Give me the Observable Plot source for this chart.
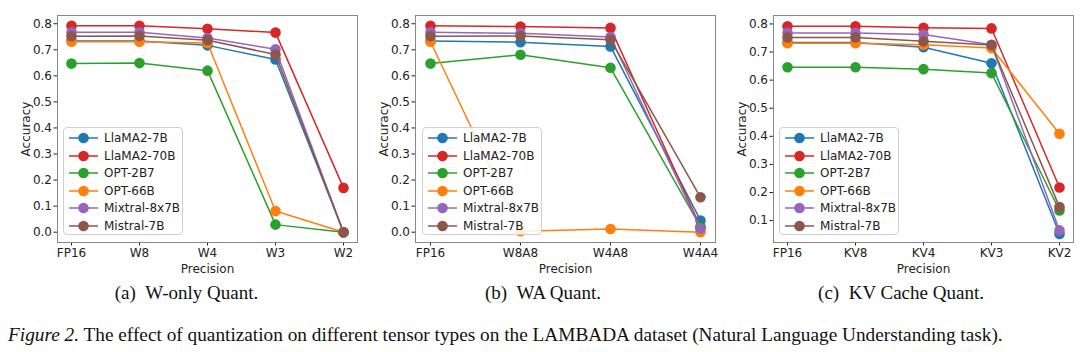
<!DOCTYPE html>
<html>
<head>
<meta charset="utf-8">
<script src="https://cdn.jsdelivr.net/npm/d3@7"></script>
<script src="https://cdn.jsdelivr.net/npm/@observablehq/plot@0.6"></script>
<style>
  html, body { margin: 0; padding: 0; background: #fff; }
  #fig { position: relative; width: 1080px; height: 352px; background: #fff; overflow: hidden; }
  .panel { position: absolute; top: 0; }
  .legend { position: absolute; width: 120px; height: 108px; box-sizing: border-box;
            border: 1px solid #d0d0d0; border-radius: 4px; background: rgba(255,255,255,0.85);
            font-family: "DejaVu Sans", sans-serif; font-size: 12px; color: #222; }
  .legend .row { position: absolute; left: 0; height: 16px; display: flex; align-items: center; }
  .legend svg { display: block; }
  .legend span { white-space: nowrap; }
  .ylab { position: absolute; font-family: "DejaVu Sans", sans-serif; font-size: 12px; color: #222;
          white-space: nowrap; transform: translate(-50%, -50%) rotate(-90deg); line-height: 1; }
  .sub { position: absolute; top: 282px; font-family: "Liberation Serif", serif; font-size: 19px; line-height: 1.15; color: #111; transform: translateX(-50%); white-space: nowrap; }
  .cap { position: absolute; top: 324px; left: 8px; font-family: "Liberation Serif", serif; font-size: 19.3px; line-height: 1.15; color: #111; white-space: nowrap; }
</style>
</head>
<body>
<div id="fig"></div>
<script>
const seriesNames = ["LlaMA2-7B", "LlaMA2-70B", "OPT-2B7", "OPT-66B", "Mixtral-8x7B", "Mistral-7B"];
const seriesColors = ["#1f77b4", "#d62728", "#2ca02c", "#ff7f0e", "#9467bd", "#8c564b"];

// (a) W-only Quant.
const wOnlyLabels = ["FP16", "W8", "W4", "W3", "W2"];
const wOnlyValues = [
  [0.734, 0.734, 0.717, 0.663, 0.0],
  [0.792, 0.792, 0.781, 0.766, 0.170],
  [0.647, 0.649, 0.620, 0.029, 0.0],
  [0.731, 0.731, 0.726, 0.081, 0.0],
  [0.767, 0.767, 0.745, 0.702, 0.0],
  [0.752, 0.753, 0.737, 0.682, 0.0]
];

// (b) WA Quant.
const waLabels = ["FP16", "W8A8", "W4A8", "W4A4"];
const waValues = [
  [0.734, 0.729, 0.713, 0.045],
  [0.792, 0.789, 0.784, 0.020],
  [0.647, 0.681, 0.631, 0.020],
  [0.731, 0.004, 0.012, 0.0],
  [0.767, 0.763, 0.749, 0.013],
  [0.752, 0.753, 0.739, 0.134]
];

// (c) KV Cache Quant.
const kvLabels = ["FP16", "KV8", "KV4", "KV3", "KV2"];
const kvValues = [
  [0.734, 0.734, 0.717, 0.660, 0.052],
  [0.792, 0.792, 0.786, 0.784, 0.218],
  [0.646, 0.646, 0.639, 0.625, 0.136],
  [0.731, 0.731, 0.726, 0.714, 0.409],
  [0.768, 0.768, 0.762, 0.726, 0.065],
  [0.752, 0.752, 0.738, 0.725, 0.148]
];

const subCaptions = ["(a)\u2002W-only Quant.", "(b)\u2002WA Quant.", "(c)\u2002KV Cache Quant."];

const fig = document.getElementById("fig");

function makePanel({labels, values, left, marginLeft, padding, yDomain, yTicks, legendLeft}) {
  const rows = [];
  values.forEach((vals, si) => vals.forEach((v, i) => rows.push({series: seriesNames[si], cat: labels[i], value: v})));
  const marks = [Plot.frame({stroke: "#888", strokeWidth: 1})];
  seriesNames.forEach((name, si) => {
    const d = rows.filter(r => r.series === name);
    marks.push(Plot.line(d, {x: "cat", y: "value", stroke: seriesColors[si], strokeWidth: 1.5}));
    marks.push(Plot.dot(d, {x: "cat", y: "value", fill: seriesColors[si], r: 5.3}));
  });
  const chart = Plot.plot({
    width: 360, height: 276,
    marginLeft, marginRight: 360 - marginLeft - 300, marginTop: 15, marginBottom: 34,
    style: {fontFamily: "DejaVu Sans, sans-serif", fontSize: "12px", color: "#222", background: "transparent"},
    x: {type: "point", domain: labels, padding, label: "Precision", labelAnchor: "center", labelOffset: 30, tickSize: 3.5, tickPadding: 2},
    y: {domain: yDomain, ticks: yTicks, tickFormat: d3.format(".1f"), label: null, tickSize: 3.5, tickPadding: 2},
    marks
  });
  chart.classList.add("panel");
  chart.style.left = left + "px";
  fig.appendChild(chart);

  const yl = document.createElement("div");
  yl.className = "ylab";
  yl.style.left = (left + marginLeft - 31) + "px";
  yl.style.top = "128.5px";
  yl.textContent = "Accuracy";
  fig.appendChild(yl);

  const lg = document.createElement("div");
  lg.className = "legend";
  lg.style.left = legendLeft + "px";
  lg.style.top = "127px";
  seriesNames.forEach((name, si) => {
    const row = document.createElement("div");
    row.className = "row";
    row.style.top = (2 + si * 17.5) + "px";
    row.innerHTML = `<svg width="40" height="16"><line x1="5" x2="34" y1="8" y2="8" stroke="${seriesColors[si]}" stroke-width="1.5"/><circle cx="19.5" cy="8" r="5.3" fill="${seriesColors[si]}"/></svg><span>${name}</span>`;
    lg.appendChild(row);
  });
  fig.appendChild(lg);
}

const ticks08 = [0, 0.1, 0.2, 0.3, 0.4, 0.5, 0.6, 0.7, 0.8];
makePanel({labels: wOnlyLabels, values: wOnlyValues, left: 0, marginLeft: 57, padding: 0.2,
  yDomain: [-0.0396, 0.8316], yTicks: ticks08, legendLeft: 63});
makePanel({labels: waLabels, values: waValues, left: 360, marginLeft: 55, padding: 0.15,
  yDomain: [-0.0396, 0.8316], yTicks: ticks08, legendLeft: 422});
makePanel({labels: kvLabels, values: kvValues, left: 720, marginLeft: 53, padding: 0.2,
  yDomain: [0.022, 0.83], yTicks: [0.1, 0.2, 0.3, 0.4, 0.5, 0.6, 0.7, 0.8], legendLeft: 779});

[186.5, 543, 901].forEach((cx, i) => {
  const s = document.createElement("div");
  s.className = "sub";
  s.style.left = cx + "px";
  s.textContent = subCaptions[i];
  fig.appendChild(s);
});
const cap = document.createElement("div");
cap.className = "cap";
cap.innerHTML = "<i>Figure 2.</i> The effect of quantization on different tensor types on the LAMBADA dataset (Natural Language Understanding task).";
fig.appendChild(cap);
</script>
</body>
</html>
